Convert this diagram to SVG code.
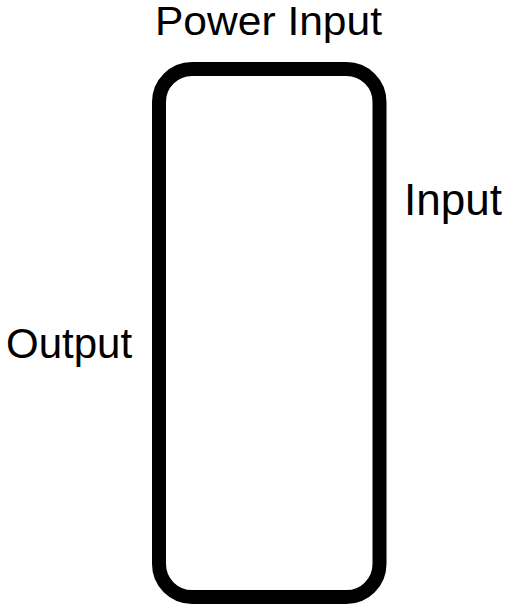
<svg xmlns="http://www.w3.org/2000/svg" width="506" height="612" viewBox="0 0 506 612">
<style>
.lbl{font-family:"Liberation Sans",Arial,sans-serif;fill:#000}
.box{fill:#fff;stroke:#000;stroke-width:14}
</style>
<rect width="506" height="612" fill="#fff"/>
<g id="block">
<rect class="box" x="159" y="69" width="220.5" height="528" rx="33" ry="33"/>
</g>
<g id="connectors"></g>
<g id="label-power-input"><text class="lbl" x="155" y="35" font-size="40" textLength="227" lengthAdjust="spacingAndGlyphs">Power Input</text></g>
<g id="label-input"><text class="lbl" x="404" y="215" font-size="44">Input</text></g>
<g id="label-output"><text class="lbl" x="6" y="358" font-size="42">Output</text></g>
</svg>
